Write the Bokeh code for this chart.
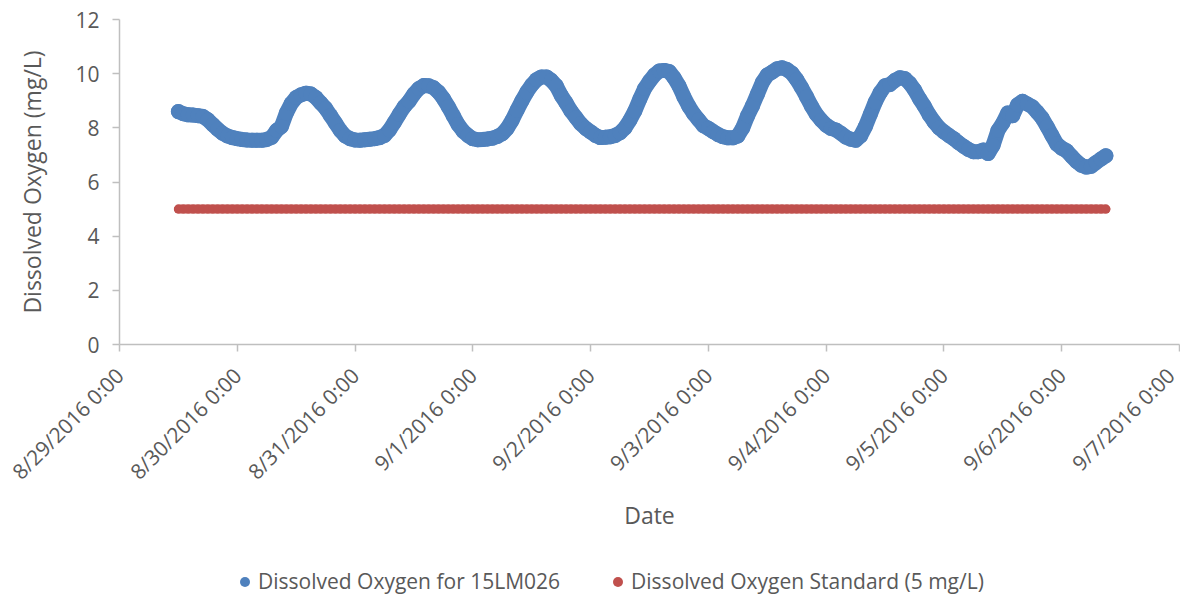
import math
import pandas as pd
from bokeh.plotting import figure
from bokeh.layouts import column
from bokeh.models import Range1d, FixedTicker, Legend, LegendItem, ColumnDataSource
from bokeh.embed import file_html
from bokeh.resources import INLINE

# ---------------- data (hourly readings) ----------------
series_start = "2016-08-29 12:00"
do_values = [
    # 8/29 12:00-23:00
    8.60, 8.52, 8.48, 8.47, 8.45, 8.42, 8.30, 8.12, 7.95, 7.80, 7.70, 7.64,
    # 8/30
    7.60, 7.57, 7.55, 7.54, 7.54, 7.54, 7.57, 7.65, 7.90, 8.05, 8.55, 8.90,
    9.12, 9.22, 9.28, 9.25, 9.12, 8.92, 8.72, 8.45, 8.18, 7.90, 7.70, 7.60,
    # 8/31
    7.55, 7.54, 7.56, 7.58, 7.60, 7.64, 7.72, 7.92, 8.20, 8.50, 8.78, 8.98,
    9.25, 9.45, 9.56, 9.55, 9.48, 9.32, 9.08, 8.78, 8.45, 8.12, 7.88, 7.72,
    # 9/1
    7.60, 7.56, 7.57, 7.59, 7.62, 7.68, 7.78, 7.98, 8.28, 8.65, 9.00, 9.32,
    9.58, 9.78, 9.88, 9.88, 9.75, 9.55, 9.20, 8.92, 8.62, 8.38, 8.15, 7.98,
    # 9/2
    7.85, 7.72, 7.64, 7.65, 7.67, 7.72, 7.82, 8.00, 8.28, 8.62, 9.05, 9.45,
    9.72, 9.95, 10.10, 10.12, 10.08, 9.85, 9.55, 9.15, 8.80, 8.52, 8.30, 8.08,
    # 9/3
    7.98, 7.86, 7.75, 7.67, 7.63, 7.63, 7.70, 8.00, 8.45, 8.82, 9.25, 9.68,
    9.95, 10.06, 10.18, 10.22, 10.15, 10.02, 9.78, 9.48, 9.15, 8.80, 8.50, 8.28,
    # 9/4
    8.10, 7.98, 7.92, 7.80, 7.66, 7.58, 7.54, 7.70, 8.05, 8.50, 8.95, 9.30,
    9.55, 9.60, 9.75, 9.85, 9.82, 9.65, 9.40, 9.08, 8.80, 8.48, 8.22, 8.00,
    # 9/5
    7.85, 7.72, 7.60, 7.45, 7.32, 7.20, 7.12, 7.12, 7.18, 7.05, 7.35, 7.90,
    8.18, 8.55, 8.45, 8.85, 8.98, 8.88, 8.78, 8.58, 8.36, 8.05, 7.72, 7.40,
    # 9/6 00:00-09:00
    7.25, 7.15, 6.95, 6.76, 6.62, 6.55, 6.58, 6.72, 6.85, 6.97,
]
standard_value = 5.0
series_names = ["Dissolved Oxygen for 15LM026", "Dissolved Oxygen Standard (5 mg/L)"]
tick_dates = ["2016-08-29", "2016-08-30", "2016-08-31", "2016-09-01", "2016-09-02",
              "2016-09-03", "2016-09-04", "2016-09-05", "2016-09-06", "2016-09-07"]
tick_labels = ["8/29/2016 0:00", "8/30/2016 0:00", "8/31/2016 0:00", "9/1/2016 0:00",
               "9/2/2016 0:00", "9/3/2016 0:00", "9/4/2016 0:00", "9/5/2016 0:00",
               "9/6/2016 0:00", "9/7/2016 0:00"]
y_ticks = [0, 2, 4, 6, 8, 10, 12]

# ---------------- build ----------------
times = pd.date_range(series_start, periods=len(do_values), freq="h")
src = ColumnDataSource(dict(t=times, do=do_values,
                            std=[standard_value] * len(do_values)))

epoch = pd.Timestamp("1970-01-01")
tick_ms = [int((pd.Timestamp(d) - epoch) // pd.Timedelta("1ms")) for d in tick_dates]

FONT = "Open Sans"
TXT = "#595959"
AX = "#BFBFBF"
BLUE = "#4F81BD"
RED = "#C0504D"

p = figure(width=1180, height=560, x_axis_type="datetime",
           output_backend="svg", toolbar_location=None,
           x_range=Range1d(tick_ms[0], tick_ms[-1]), y_range=Range1d(0, 12),
           min_border_left=119, min_border_right=1, min_border_top=19,
           min_border_bottom=216)
p.outline_line_color = None
p.xgrid.visible = False
p.ygrid.visible = False
p.background_fill_color = "white"
p.border_fill_color = "white"

p.line("t", "do", source=src, line_width=15, line_color=BLUE,
       line_join="round", line_cap="round")
p.scatter("t", "do", source=src, size=15, marker="circle",
          fill_color=BLUE, line_color=None)
p.line("t", "std", source=src, line_width=9, line_color=RED,
       line_join="round", line_cap="round")
p.scatter("t", "std", source=src, size=9, marker="circle",
          fill_color=RED, line_color=None)

xa = p.xaxis[0]
ya = p.yaxis[0]
xa.ticker = FixedTicker(ticks=tick_ms)
xa.major_label_overrides = {ms: lab for ms, lab in zip(tick_ms, tick_labels)}
xa.major_label_orientation = math.pi / 4
ya.ticker = FixedTicker(ticks=y_ticks)
xa.axis_label = "Date"
ya.axis_label = "Dissolved Oxygen (mg/L)"

for ax in (xa, ya):
    ax.axis_line_color = AX
    ax.axis_line_width = 1.5
    ax.major_tick_line_color = AX
    ax.major_tick_line_width = 1.5
    ax.major_tick_out = 7
    ax.major_tick_in = 0
    ax.minor_tick_line_color = None
    ax.major_label_text_color = TXT
    ax.major_label_text_font = FONT
    ax.major_label_text_font_size = "21px"
    ax.axis_label_text_color = TXT
    ax.axis_label_text_font = FONT
    ax.axis_label_text_font_size = "23px"
    ax.axis_label_text_font_style = "normal"
xa.major_label_standoff = 20
xa.axis_label_standoff = 1
ya.major_label_standoff = 13
ya.axis_label_standoff = 24

# ---------------- legend row (separate strip below the chart) ----------------
lg = figure(width=1180, height=36, output_backend="svg", toolbar_location=None,
            x_range=Range1d(0, 1), y_range=Range1d(0, 1),
            min_border_left=0, min_border_right=0, min_border_top=0,
            min_border_bottom=0)
lg.axis.visible = False
lg.grid.visible = False
lg.outline_line_color = None
# legend keys: one point each, placed outside the strip's visible range
k1 = lg.scatter(x=[-5], y=[-5], size=15, marker="circle", fill_color=BLUE, line_color=None)
k2 = lg.scatter(x=[-5], y=[-5], size=9, marker="circle", fill_color=RED, line_color=None)

legend = Legend(items=[LegendItem(label=series_names[0], renderers=[k1]),
                       LegendItem(label=series_names[1], renderers=[k2])],
                orientation="horizontal", location=(113, 1),
                glyph_width=25, glyph_height=25, label_standoff=1, spacing=45,
                padding=0, margin=0, border_line_color=None,
                background_fill_alpha=0,
                label_text_font=FONT, label_text_font_size="21px",
                label_text_color=TXT)
lg.add_layout(legend, "center")

open("out.html", "w").write(file_html(column(p, lg, spacing=0), INLINE))
